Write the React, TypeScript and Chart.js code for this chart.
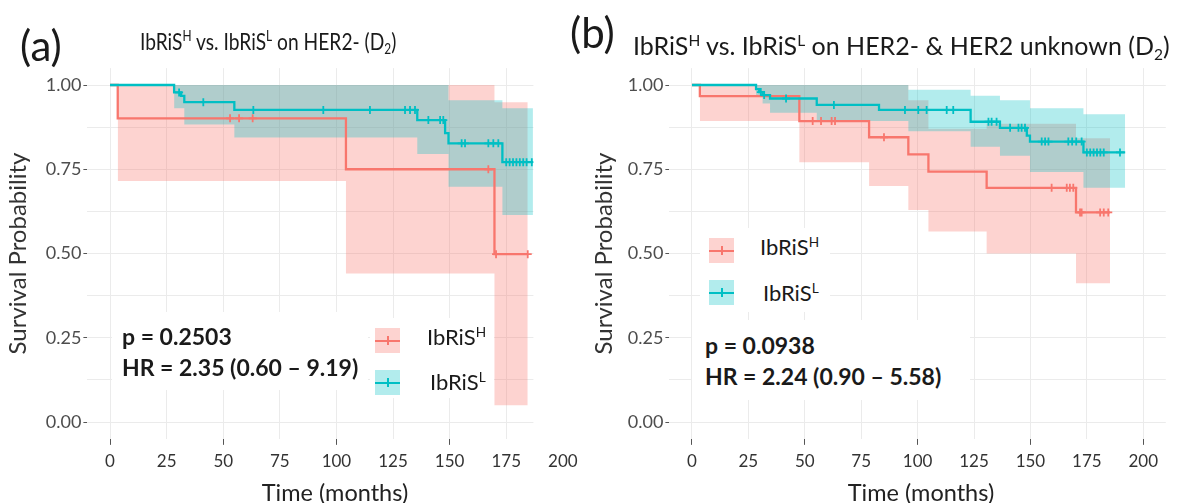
import React, { useEffect, useRef } from "react";
import { Chart, registerables } from "chart.js";
Chart.register(...registerables);

// ---------- Panel (a) data : HER2- ----------
const aHighTimes = [0, 3.4, 104.2, 169.8, 184.5];
const aHighSurv = [1, 0.901, 0.75, 0.498, 0.498];
const aHighBandTimes = [3.4, 104.2, 169.8, 184.5];
const aHighUpper = [1, 1, 0.949, 0.949];
const aHighLower = [0.715, 0.441, 0.05, 0.05];
const aHighCensor = [53.0, 57.0, 63.0, 167.1, 170.5, 184.5];

const aLowTimes = [0, 28.3, 31.4, 32.8, 54.9, 135.7, 148.0, 149.5, 173.3, 186.8];
const aLowSurv = [1, 0.978, 0.968, 0.949, 0.926, 0.896, 0.857, 0.827, 0.771, 0.771];
const aLowBandTimes = [28.3, 32.8, 54.9, 135.7, 149.5, 173.3, 186.8];
const aLowUpper = [1, 1, 1, 1, 0.955, 0.931, 0.931];
const aLowLower = [0.931, 0.883, 0.844, 0.795, 0.698, 0.614, 0.614];
const aLowCensor = [30.5, 41.2, 63.3, 94.2, 114.8, 130.3, 132.5, 134.7, 140.6, 145.8, 147.2, 155.3, 156.8, 167.1, 169.3, 171.5, 175, 176.5, 178, 179.5, 181, 182.5, 184, 186.3];

// ---------- Panel (b) data : HER2- & HER2 unknown ----------
const bHighTimes = [0, 3.5, 47.6, 78.5, 95.9, 104.8, 130.6, 170.2, 185.3];
const bHighSurv = [1, 0.967, 0.893, 0.845, 0.794, 0.743, 0.695, 0.622, 0.622];
const bHighBandTimes = [3.5, 47.6, 78.5, 95.9, 104.8, 130.6, 170.2, 185.3];
const bHighUpper = [1, 1, 1, 0.955, 0.87, 0.885, 0.842, 0.842];
const bHighLower = [0.893, 0.771, 0.7, 0.629, 0.565, 0.5, 0.412, 0.412];
const bHighCensor = [53.5, 57.2, 61.9, 63.4, 85.1, 159.4, 166.1, 167.5, 169, 172, 172.7, 180.9, 182.5, 184.5];

const bLowTimes = [0, 28.4, 29.8, 31.3, 34.6, 55.3, 82.9, 123.5, 136.5, 148.4, 149.8, 173.5, 192];
const bLowSurv = [1, 0.988, 0.979, 0.97, 0.96, 0.941, 0.926, 0.891, 0.873, 0.85, 0.832, 0.8, 0.8];
const bLowBandTimes = [28.4, 31.3, 34.6, 55.3, 95.9, 123.5, 136.5, 149.8, 173.5, 192];
const bLowUpper = [1, 1, 1, 1, 0.986, 0.968, 0.955, 0.931, 0.913, 0.913];
const bLowLower = [0.965, 0.945, 0.918, 0.893, 0.863, 0.817, 0.79, 0.742, 0.695, 0.695];
const bLowCensor = [30.5, 32, 41.7, 62.9, 94.4, 100.3, 104, 112.9, 115.8, 131.4, 132.8, 135, 141, 144.7, 146.1, 147.6, 155, 156.5, 158, 166.8, 168.5, 170.3, 172.7, 175, 176.5, 178, 179.5, 181, 182.5, 189.7];

// ---------- axes ----------
const xTickValues = [0, 25, 50, 75, 100, 125, 150, 175, 200];
const yGridValues = [0, 0.125, 0.25, 0.375, 0.5, 0.625, 0.75, 0.875, 1];
const yLabelValues = [0, 0.25, 0.5, 0.75, 1];
const yLabelTexts = ["0.00", "0.25", "0.50", "0.75", "1.00"];

const PINK = "#F8766D";
const TEAL = "#00BFC4";
const PINK_FILL = "rgba(248,118,109,0.32)";
const TEAL_FILL = "rgba(0,191,196,0.30)";
const FONT = "Lato, 'Open Sans', sans-serif";

function pts(t: number[], v: number[]) {
  return t.map((x, i) => ({ x, y: v[i] }));
}
function survAt(times: number[], vals: number[], t: number) {
  let v = vals[0];
  for (let i = 0; i < times.length; i++) if (times[i] <= t) v = vals[i];
  return v;
}

type Panel = {
  hT: number[]; hS: number[]; hBT: number[]; hU: number[]; hL: number[]; hC: number[];
  lT: number[]; lS: number[]; lBT: number[]; lU: number[]; lL: number[]; lC: number[];
  xMax: number; canvasW: number; chartLeft: number; chartRight: number; yTitlePad: number; xMarked: number[];
};

const panelA: Panel = {
  hT: aHighTimes, hS: aHighSurv, hBT: aHighBandTimes, hU: aHighUpper, hL: aHighLower, hC: aHighCensor,
  lT: aLowTimes, lS: aLowSurv, lBT: aLowBandTimes, lU: aLowUpper, lL: aLowLower, lC: aLowCensor,
  xMax: 187, canvasW: 590, chartLeft: 87.4, chartRight: 533.4, yTitlePad: 4, xMarked: [0, 50, 100, 150],
};
const panelB: Panel = {
  hT: bHighTimes, hS: bHighSurv, hBT: bHighBandTimes, hU: bHighUpper, hL: bHighLower, hC: bHighCensor,
  lT: bLowTimes, lS: bLowSurv, lBT: bLowBandTimes, lU: bLowUpper, lL: bLowLower, lC: bLowCensor,
  xMax: 210, canvasW: 589, chartLeft: 79.4, chartRight: 575.8, yTitlePad: 0, xMarked: [0, 50, 100, 150, 200],
};

const H = 503;
const CHART_TOP = 68.15;
const CHART_BOTTOM = 438.85;

function makeConfig(p: Panel): any {
  const band = (t: number[], v: number[], fill: any, bg: string, order: number) => ({
    data: pts(t, v), stepped: "before", borderWidth: 0, pointRadius: 0, fill, backgroundColor: bg, order,
  });
  const line = (t: number[], v: number[], color: string, order: number) => ({
    data: pts(t, v), stepped: "before", borderColor: color, borderWidth: 2.3, pointRadius: 0, fill: false, order,
  });
  const censor = (c: number[], t: number[], v: number[], color: string, order: number) => ({
    data: c.map((x) => ({ x, y: survAt(t, v, x) })), showLine: false, pointStyle: "cross",
    pointRadius: 4, pointBorderColor: color, pointBorderWidth: 1.8, fill: false, order,
  });
  return {
    type: "line",
    data: {
      datasets: [
        band(p.hBT, p.hU, "+1", PINK_FILL, 8),
        band(p.hBT, p.hL, false, PINK_FILL, 8),
        band(p.lBT, p.lU, "+1", TEAL_FILL, 7),
        band(p.lBT, p.lL, false, TEAL_FILL, 7),
        line(p.hT, p.hS, PINK, 4),
        line(p.lT, p.lS, TEAL, 3),
        censor(p.hC, p.hT, p.hS, PINK, 2),
        censor(p.lC, p.lT, p.lS, TEAL, 1),
      ],
    },
    options: {
      animation: false,
      responsive: false,
      devicePixelRatio: 1,
      layout: { padding: { left: 0, top: CHART_TOP, right: p.canvasW - p.chartRight, bottom: 0 } },
      plugins: { legend: { display: false }, tooltip: { enabled: false }, title: { display: false } },
      elements: { line: { tension: 0 } },
      scales: {
        x: {
          type: "linear",
          min: -10,
          max: p.xMax,
          afterBuildTicks: (s: any) => {
            s.ticks = xTickValues.map((v) => ({ value: v }));
          },
          afterFit: (s: any) => {
            s.height = H - CHART_BOTTOM;
          },
          border: { display: false },
          grid: {
            color: (ctx: any) => (ctx.tick && ctx.tick.value <= p.xMax ? "#EBEBEB" : "rgba(0,0,0,0)"),
            lineWidth: 1,
            tickLength: 6,
            tickColor: (ctx: any) => (ctx.tick && p.xMarked.includes(ctx.tick.value) ? "#555" : "rgba(0,0,0,0)"),
          },
          ticks: {
            autoSkip: false,
            maxRotation: 0,
            padding: 6,
            color: "#333",
            font: { family: FONT, size: 17 },
            callback: (v: any) => String(v),
          },
        },
        y: {
          type: "linear",
          min: -0.05,
          max: 1.05,
          afterBuildTicks: (s: any) => {
            s.ticks = yGridValues.map((v) => ({ value: v }));
          },
          afterFit: (s: any) => {
            s.width = p.chartLeft;
          },
          border: { display: false },
          grid: {
            color: "#EBEBEB",
            lineWidth: 1,
            tickLength: 4,
            tickColor: (ctx: any) => (ctx.tick && yLabelValues.includes(ctx.tick.value) ? "#555" : "rgba(0,0,0,0)"),
          },
          ticks: {
            autoSkip: false,
            padding: 2,
            color: "#4D4D4D",
            font: { family: FONT, size: 18 },
            callback: (v: any) => {
              const i = yLabelValues.indexOf(v);
              return i >= 0 ? yLabelTexts[i] : "";
            },
          },
          title: {
            display: true,
            text: "Survival Probability",
            color: "#333",
            font: { family: FONT, size: 24 },
            padding: { top: p.yTitlePad, bottom: 0 },
          },
        },
      },
    },
  };
}

const Sup = ({ c }: { c: string }) => (
  <span style={{ fontSize: "0.62em", position: "relative", top: "-0.6em", verticalAlign: "baseline" }}>{c}</span>
);
const Sub = ({ c }: { c: string }) => (
  <span style={{ fontSize: "0.62em", position: "relative", top: "0.3em", verticalAlign: "baseline" }}>{c}</span>
);

const abs = (left: number, top: number, extra: any = {}) => ({
  position: "absolute" as const, left, top, whiteSpace: "nowrap" as const, ...extra,
});

function LegendKey({ left, top, fill, color }: { left: number; top: number; fill: string; color: string }) {
  return (
    <div style={abs(left, top, { width: 25, height: 25, background: fill })}>
      <div style={{ position: "absolute", left: 0, top: 11.5, width: 25, height: 2, background: color }} />
      <div style={{ position: "absolute", left: 11.5, top: 8, width: 2, height: 9, background: color }} />
    </div>
  );
}

export default function App() {
  const refA = useRef<HTMLCanvasElement>(null);
  const refB = useRef<HTMLCanvasElement>(null);
  useEffect(() => {
    const a = new Chart(refA.current as HTMLCanvasElement, makeConfig(panelA));
    const b = new Chart(refB.current as HTMLCanvasElement, makeConfig(panelB));
    return () => {
      a.destroy();
      b.destroy();
    };
  }, []);

  const txt = { fontFamily: FONT, color: "#1a1a1a" };
  return (
    <div style={{ position: "fixed", left: 0, top: 0, width: 1179, height: 503, background: "#fff", overflow: "hidden", fontFamily: FONT }}>
      <canvas ref={refA} width={590} height={503} style={{ position: "absolute", left: 0, top: 0, width: 590, height: 503 }} />
      <canvas ref={refB} width={589} height={503} style={{ position: "absolute", left: 590, top: 0, width: 589, height: 503 }} />

      {/* panel labels and titles */}
      <div style={abs(20, 18, { ...txt, fontSize: 42, lineHeight: "54px" })}>(a)</div>
      <div style={abs(570, 5, { ...txt, fontSize: 42, lineHeight: "54px" })}>(b)</div>
      <div style={abs(140, 25, { ...txt, fontSize: 24, lineHeight: "32px", transform: "scaleX(0.8)", transformOrigin: "left center" })}>
        IbRiS<Sup c="H" /> vs. IbRiS<Sup c="L" /> on HER2- (D<Sub c="2" />)
      </div>
      <div style={abs(633, 29, { ...txt, fontSize: 25, lineHeight: "32px" })}>
        IbRiS<Sup c="H" /> vs. IbRiS<Sup c="L" /> on HER2- &amp; HER2 unknown (D<Sub c="2" />)
      </div>

      {/* x axis titles */}
      <div style={abs(255, 477, { ...txt, fontSize: 23.5, lineHeight: "30px", width: 160, textAlign: "center", color: "#222" })}>Time (months)</div>
      <div style={abs(841, 477, { ...txt, fontSize: 23.5, lineHeight: "30px", width: 160, textAlign: "center", color: "#222" })}>Time (months)</div>

      {/* panel (a) annotations */}
      <div style={abs(112, 312, { width: 256, height: 78, background: "#fff" })} />
      <div style={abs(122, 321, { ...txt, fontSize: 23, fontWeight: 700, lineHeight: "31px" })}>
        p = 0.2503
        <br />
        HR = 2.35 (0.60 – 9.19)
      </div>
      <div style={abs(370, 318, { width: 124, height: 80, background: "#fff" })} />
      <LegendKey left={375} top={328} fill={PINK_FILL} color={PINK} />
      <LegendKey left={375} top={370} fill={TEAL_FILL} color={TEAL} />
      <div style={abs(427, 323, { ...txt, fontSize: 22, lineHeight: "28px" })}>
        IbRiS<Sup c="H" />
      </div>
      <div style={abs(430, 368, { ...txt, fontSize: 22, lineHeight: "28px" })}>
        IbRiS<Sup c="L" />
      </div>

      {/* panel (b) annotations */}
      <div style={abs(700, 228, { width: 130, height: 84, background: "#fff" })} />
      <LegendKey left={709} top={238} fill={PINK_FILL} color={PINK} />
      <LegendKey left={709} top={280} fill={TEAL_FILL} color={TEAL} />
      <div style={abs(760, 233, { ...txt, fontSize: 22, lineHeight: "28px" })}>
        IbRiS<Sup c="H" />
      </div>
      <div style={abs(763, 279, { ...txt, fontSize: 22, lineHeight: "28px" })}>
        IbRiS<Sup c="L" />
      </div>
      <div style={abs(692, 320, { width: 278, height: 80, background: "#fff" })} />
      <div style={abs(705, 330, { ...txt, fontSize: 23, fontWeight: 700, lineHeight: "31px" })}>
        p = 0.0938
        <br />
        HR = 2.24 (0.90 – 5.58)
      </div>
    </div>
  );
}
